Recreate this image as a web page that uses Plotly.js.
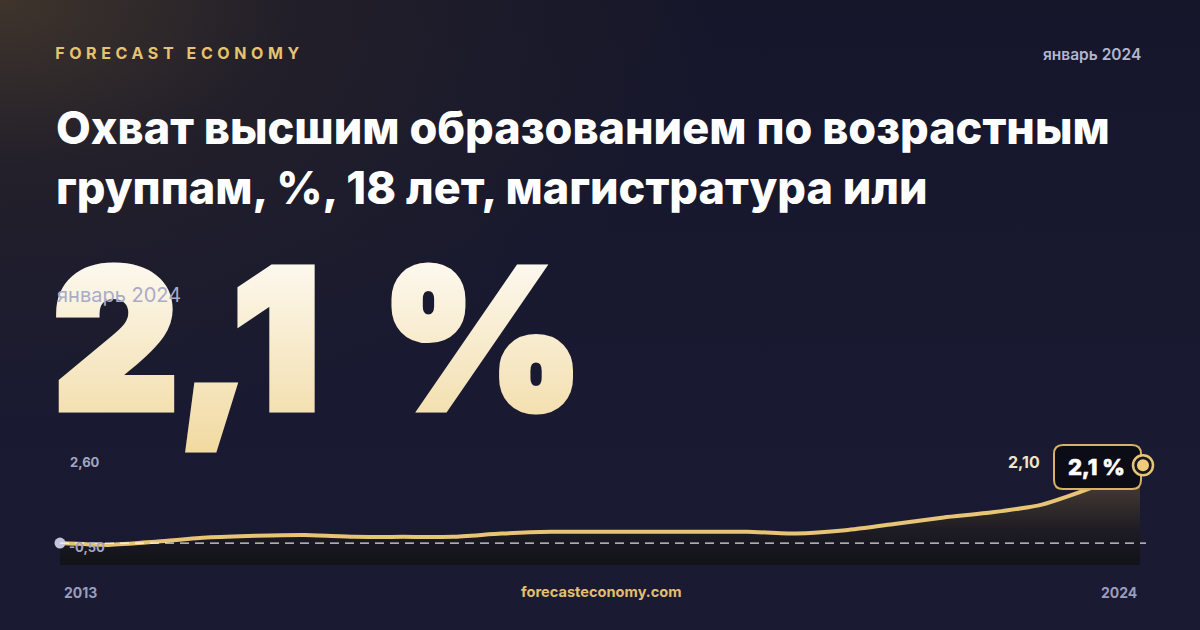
<!DOCTYPE html>
<html>
<head>
<meta charset="utf-8">
<script src="https://cdn.plot.ly/plotly-3.0.1.min.js"></script>
<style>
  html, body { margin: 0; padding: 0; }
  body {
    width: 1200px; height: 630px; overflow: hidden;
    background:
      radial-gradient(ellipse 720px 420px at 0% 0%, rgba(70,58,44,0.85) 0%, rgba(45,38,40,0.55) 40%, rgba(24,26,47,0) 100%),
      linear-gradient(180deg, #15162a 0%, #191a31 60%, #1a1b33 100%);
  }
  #chart { width: 1200px; height: 630px; }
</style>
</head>
<body>
<div id="chart"></div>
<script>
// coverage, %, 18 y.o., master's level
const dates = ['2013-01-01','2013-07-01','2014-01-01','2014-07-01','2015-01-01','2015-07-01',
  '2016-01-01','2016-07-01','2017-01-01','2017-07-01','2018-01-01','2018-07-01',
  '2019-01-01','2019-07-01','2020-01-01','2020-07-01','2021-01-01','2021-07-01',
  '2022-01-01','2022-07-01','2023-01-01','2023-07-01','2024-01-01'];
const values = [0.00, -0.05, 0.04, 0.15, 0.20, 0.22,
  0.17, 0.17, 0.17, 0.26, 0.31, 0.31,
  0.31, 0.31, 0.31, 0.26, 0.35, 0.52,
  0.70, 0.84, 1.05, 1.50, 2.10];
const yLabelTop = 2.60;
const yLabelBottom = -0.50;
const yearStart = '2013';
const yearEnd = '2024';
const periodLabel = 'январь 2024';
const titleLines = ['Охват высшим образованием по возрастным', 'группам, %, 18 лет, магистратура или'];

const W = 1200, H = 630;
const px = x => x / W;
const py = y => 1 - y / H;
const comma = (v, d) => v.toFixed(d).replace('.', ',');

const firstDate = dates[0];
const lastDate = dates[dates.length - 1];
const lastVal = values[values.length - 1];
const bigText = comma(lastVal, 1) + ' %';

// extra room right of the last point so the end marker isn't clipped
const tA = Date.parse(firstDate), tB = Date.parse(lastDate);
const rangeEnd = new Date(tB + (tB - tA) * 20 / 1080).toISOString();

const gold = '#e8c575';
const grey = '#a3a6c2';

let baseline = {
  x: dates, y: dates.map(() => -0.6),
  mode: 'lines', line: {width: 0, color: 'rgba(0,0,0,0)'},
  hoverinfo: 'skip', showlegend: false
};
let area = {
  x: dates, y: values,
  mode: 'lines', fill: 'tonexty',
  fillgradient: {type: 'vertical', colorscale: [[0, '#121219'], [0.35, '#1d1b23'], [1, '#54473b']]},
  line: {color: gold, width: 4, shape: 'spline', smoothing: 0.6},
  hoverinfo: 'skip', showlegend: false
};
let startDot = {
  x: [firstDate], y: [values[0]], mode: 'markers',
  marker: {size: 11, color: '#c2c5de'}, cliponaxis: false, showlegend: false
};

// rounded badge path (pixel coords -> paper)
function roundRect(x0, y0, x1, y1, r) {
  const P = (x, y) => px(x) + ',' + py(y);
  return 'M' + P(x0 + r, y0) + ' L' + P(x1 - r, y0) + ' Q' + P(x1, y0) + ' ' + P(x1, y0 + r) +
    ' L' + P(x1, y1 - r) + ' Q' + P(x1, y1) + ' ' + P(x1 - r, y1) +
    ' L' + P(x0 + r, y1) + ' Q' + P(x0, y1) + ' ' + P(x0, y1 - r) +
    ' L' + P(x0, y0 + r) + ' Q' + P(x0, y0) + ' ' + P(x0 + r, y0) + ' Z';
}

// circle around the last point, sized in pixels
function pointCircle(r, fill, lineW) {
  return {type: 'circle', xref: 'x', yref: 'y', xsizemode: 'pixel', ysizemode: 'pixel',
    xanchor: lastDate, yanchor: lastVal, x0: -r + 3, x1: r + 3, y0: -r + 1, y1: r + 1,
    fillcolor: fill, line: {color: gold, width: lineW}, layer: 'above'};
}

const F = 'Inter, "Noto Sans", sans-serif';
let annotations = [
  {text: 'FORECAST ECONOMY', x: px(179), y: py(53), xanchor: 'center', yanchor: 'middle',
   font: {family: F, size: 16, color: '#e6c370', weight: 700}},
  {text: periodLabel, x: px(1143), y: py(54), xanchor: 'right', yanchor: 'middle',
   font: {family: F, size: 15.5, color: '#b3b5cf', weight: 600}},
  {text: titleLines[0], x: px(54), y: py(128), xanchor: 'left', yanchor: 'middle',
   font: {family: F, size: 45, color: '#ffffff', weight: 800}},
  {text: titleLines[1], x: px(54), y: py(187), xanchor: 'left', yanchor: 'middle',
   font: {family: F, size: 45, color: '#ffffff', weight: 800}},
  {text: bigText, x: px(62), y: py(338), xanchor: 'left', yanchor: 'middle',
   font: {family: F, size: 194, color: '#f6e6c0', weight: 900}},
  {text: periodLabel, x: px(55), y: py(295), xanchor: 'left', yanchor: 'middle',
   font: {family: F, size: 20, color: '#a9abc8', weight: 400}},
  {text: comma(yLabelTop, 2), x: px(68), y: py(462), xanchor: 'left', yanchor: 'middle',
   font: {family: F, size: 13, color: grey, weight: 700}},
  {text: comma(yLabelBottom, 2), x: px(67), y: py(547), xanchor: 'left', yanchor: 'middle',
   font: {family: F, size: 13, color: grey, weight: 700}},
  {text: comma(lastVal, 2), x: px(1042), y: py(462), xanchor: 'right', yanchor: 'middle',
   font: {family: F, size: 16, color: '#efe3c8', weight: 700}},
  {text: bigText, x: px(1096), y: py(467), xanchor: 'center', yanchor: 'middle',
   font: {family: F, size: 22, color: '#ffffff', weight: 800}},
  {text: yearStart, x: px(62), y: py(592), xanchor: 'left', yanchor: 'middle',
   font: {family: F, size: 14, color: '#9a9dbb', weight: 700}},
  {text: yearEnd, x: px(1139), y: py(592), xanchor: 'right', yanchor: 'middle',
   font: {family: F, size: 14, color: '#9a9dbb', weight: 700}},
  {text: 'forecasteconomy.com', x: px(601), y: py(592), xanchor: 'center', yanchor: 'middle',
   font: {family: F, size: 14.6, color: '#e2bf6e', weight: 700}}
].map(a => Object.assign({xref: 'paper', yref: 'paper', showarrow: false}, a));

let shapes = [
  {type: 'line', xref: 'paper', yref: 'y', x0: px(60), x1: px(1146), y0: 0, y1: 0,
   line: {color: 'rgba(255,255,255,0.85)', width: 1.2, dash: '9px,6px'}, layer: 'above'},
  {type: 'path', xref: 'paper', yref: 'paper', path: roundRect(1054, 445, 1141, 489, 9),
   fillcolor: '#0c0c17', line: {color: '#d8b263', width: 2}, layer: 'above'},
  pointCircle(10, '#16161f', 2.5),
  pointCircle(6, '#f0cc78', 0)
];

let layout = {
  width: W, height: H,
  margin: {l: 0, r: 0, t: 0, b: 0},
  paper_bgcolor: 'rgba(0,0,0,0)', plot_bgcolor: 'rgba(0,0,0,0)',
  xaxis: {type: 'date', range: [firstDate, rangeEnd], domain: [px(60), px(1160)],
          visible: false, fixedrange: true},
  yaxis: {range: [-0.6, 2.6], domain: [py(565), py(448)], visible: false, fixedrange: true},
  annotations: annotations,
  shapes: shapes,
  showlegend: false
};

Plotly.newPlot('chart', [baseline, area, startDot], layout,
  {staticPlot: true, displayModeBar: false}).then(gd => {
  const svg = gd.querySelector('svg.main-svg');
  const ns = 'http://www.w3.org/2000/svg';
  let defs = svg.querySelector('defs');
  let grad = document.createElementNS(ns, 'linearGradient');
  grad.setAttribute('id', 'bigGrad');
  grad.setAttribute('x1', '0'); grad.setAttribute('y1', '0');
  grad.setAttribute('x2', '0'); grad.setAttribute('y2', '1');
  [['0%', '#ffffff'], ['100%', '#f1d99f']].forEach(s => {
    let st = document.createElementNS(ns, 'stop');
    st.setAttribute('offset', s[0]); st.setAttribute('stop-color', s[1]);
    grad.appendChild(st);
  });
  defs.appendChild(grad);
  gd.querySelectorAll('.annotation-text').forEach(t => {
    if (t.textContent === 'FORECAST ECONOMY') t.style.letterSpacing = '4.6px';
    if (t.textContent === bigText && parseFloat(t.style.fontSize) > 100) {
      t.style.fill = 'url(#bigGrad)';
      t.style.stroke = 'url(#bigGrad)';
      t.style.strokeWidth = '7px';
      t.style.strokeLinejoin = 'miter';
      t.style.wordSpacing = '22px';
    }
    if (t.textContent === bigText && parseFloat(t.style.fontSize) < 30) {
      t.style.stroke = '#ffffff';
      t.style.strokeWidth = '0.6px';
    }
  });
  // bring the overlaid period label above the big number
  const anns = gd.querySelectorAll('.annotation');
  anns[5].parentNode.appendChild(anns[5]);
});
</script>
</body>
</html>
